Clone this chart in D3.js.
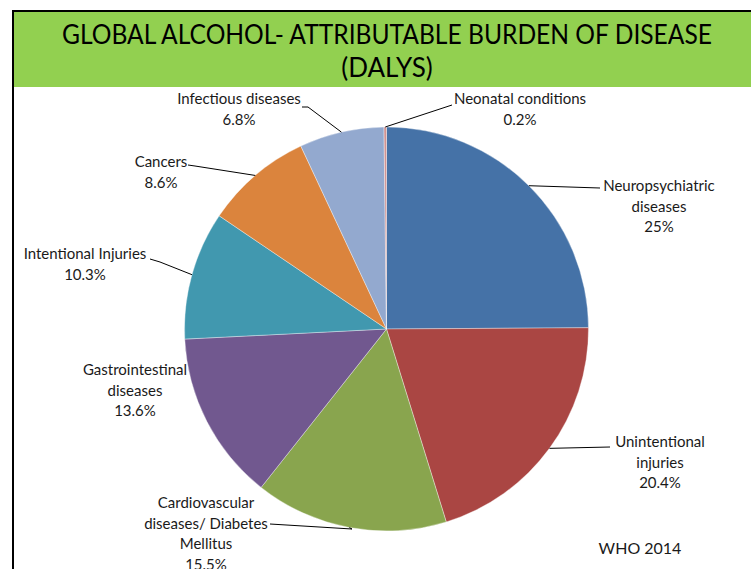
<!DOCTYPE html>
<html lang="en">
<head>
    <meta charset="UTF-8">
    <title>Global Alcohol-Attributable Burden of Disease</title>
    <script src="https://d3js.org/d3.v7.min.js"></script>
    <style>
        body { margin: 0; background: #fff; }
        text { font-family: Lato, "Open Sans", sans-serif; fill: #1a1a1a; }
        .label { font-size: 15px; }
        .leader { fill: none; stroke: #000; stroke-width: 1; }
    </style>
</head>
<body>

<svg></svg>

<script>
    // data, clockwise from 12 o'clock
    var categories = ["Neuropsychiatric diseases", "Unintentional injuries",
        "Cardiovascular diseases/ Diabetes Mellitus", "Gastrointestinal diseases",
        "Intentional Injuries", "Cancers", "Infectious diseases", "Neonatal conditions"];
    var values = [25, 20.4, 15.5, 13.6, 10.3, 8.6, 6.8, 0.2];
    var valueLabels = ["25%", "20.4%", "15.5%", "13.6%", "10.3%", "8.6%", "6.8%", "0.2%"];
    var colors = ["#4572A7", "#AA4643", "#89A54E", "#71588F", "#4198AF", "#DB843D", "#93A9CF", "#D19392"];

    // label text lines (last line is the percentage)
    var labelLines = [
        ["Neuropsychiatric", "diseases"],
        ["Unintentional", "injuries"],
        ["Cardiovascular", "diseases/ Diabetes", "Mellitus"],
        ["Gastrointestinal", "diseases"],
        ["Intentional Injuries"],
        ["Cancers"],
        ["Infectious diseases"],
        ["Neonatal conditions"]
    ];

    var w = 751, h = 569;
    var cx = 386.5, cy = 329, r = 202;

    // label layout: centre x, first baseline y, leader elbow points (null = no leader)
    var labelLayout = [
        { x: 659, y: 191, leader: [[600, 188]] },
        { x: 660, y: 447, leader: [[610, 447]] },
        { x: 206, y: 508, leader: [[352, 529], [270, 524]] },
        { x: 135, y: 375, leader: null },
        { x: 85,  y: 259, leader: [[160, 262], [150, 259]] },
        { x: 161, y: 167, leader: [[195, 166], [188, 165]] },
        { x: 239, y: 104, leader: [[308, 107], [302, 107]] },
        { x: 520, y: 104, leader: [[452, 105]] }
    ];

    var svg = d3.select("svg")
        .attr("width", w)
        .attr("height", h);

    // title bar
    svg.append("rect")
        .attr("x", 12).attr("y", 11)
        .attr("width", w - 12).attr("height", 76)
        .attr("fill", "#92D050");

    svg.append("line")
        .attr("x1", 12).attr("y1", 11).attr("x2", w).attr("y2", 11)
        .attr("stroke", "#000").attr("stroke-width", 2);
    svg.append("line")
        .attr("x1", 13).attr("y1", 11).attr("x2", 13).attr("y2", h)
        .attr("stroke", "#000").attr("stroke-width", 2);

    svg.append("text")
        .attr("x", 387).attr("y", 44)
        .attr("text-anchor", "middle")
        .attr("textLength", 650)
        .attr("lengthAdjust", "spacingAndGlyphs")
        .style("font-size", "26px")
        .style("fill", "#000")
        .text("GLOBAL ALCOHOL- ATTRIBUTABLE BURDEN OF DISEASE");
    svg.append("text")
        .attr("x", 387).attr("y", 77)
        .attr("text-anchor", "middle")
        .style("font-size", "26px")
        .style("fill", "#000")
        .text("(DALYS)");

    // pie
    var pie = d3.pie().sort(null).value(d => d);
    var arcs = pie(values);
    var arc = d3.arc().innerRadius(0).outerRadius(r);
    var edge = d3.arc().innerRadius(r).outerRadius(r);

    var g = svg.append("g").attr("transform", "translate(" + cx + "," + cy + ")");

    g.selectAll("path.slice")
        .data(arcs)
        .enter().append("path")
        .attr("class", "slice")
        .attr("d", arc)
        .attr("fill", (d, i) => colors[i])
        .attr("stroke", "#fff")
        .attr("stroke-width", 0.6)
        .attr("stroke-opacity", 0.6);

    // leader lines
    var line = d3.line();
    arcs.forEach((a, i) => {
        var lay = labelLayout[i];
        if (!lay.leader) return;
        var p = edge.centroid(a);
        var pts = [[cx + p[0], cy + p[1]]].concat(lay.leader);
        svg.append("path")
            .attr("class", "leader")
            .attr("d", line(pts));
    });

    // labels
    labelLines.forEach((lines, i) => {
        var lay = labelLayout[i];
        var t = svg.append("text")
            .attr("class", "label")
            .attr("text-anchor", "middle");
        lines.concat([valueLabels[i]]).forEach((s, j) => {
            t.append("tspan")
                .attr("x", lay.x)
                .attr("y", lay.y + j * 20.5)
                .text(s);
        });
    });

    svg.append("text")
        .attr("x", 640).attr("y", 554)
        .attr("text-anchor", "middle")
        .style("font-size", "16px")
        .text("WHO 2014");
</script>

</body>
</html>
